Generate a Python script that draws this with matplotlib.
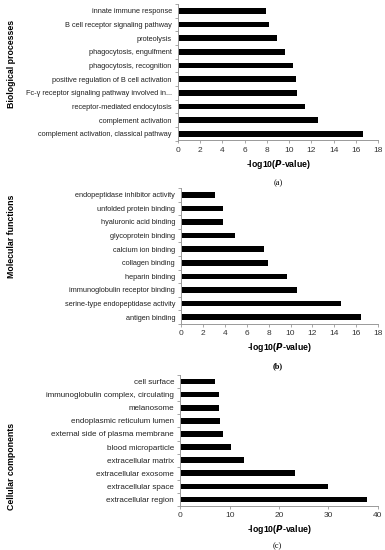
import numpy as np
import matplotlib
matplotlib.use("Agg")
import matplotlib.pyplot as plt

plt.rcParams['font.family'] = ['Liberation Sans', 'DejaVu Sans']

# categories are listed top to bottom as in the figure
bp_terms = ["innate immune response", "B cell receptor signaling pathway", "proteolysis",
            "phagocytosis, engulfment", "phagocytosis, recognition",
            "positive regulation of B cell activation",
            "Fc-\u03b3 receptor signaling pathway involved in...",
            "receptor-mediated endocytosis", "complement activation",
            "complement activation, classical pathway"]
bp_vals = [7.95, 8.22, 8.94, 9.6, 10.38, 10.62, 10.74, 11.46, 12.57, 16.65]

mf_terms = ["endopeptidase inhibitor activity", "unfolded protein binding",
            "hyaluronic acid binding", "glycoprotein binding", "calcium ion binding",
            "collagen binding", "heparin binding", "immunoglobulin receptor binding",
            "serine-type endopeptidase activity", "antigen binding"]
mf_vals = [3.05, 3.78, 3.78, 4.88, 7.57, 7.9, 9.7, 10.62, 14.64, 16.44]

cc_terms = ["cell surface", "immunoglobulin complex, circulating", "melanosome",
            "endoplasmic reticulum lumen", "external side of plasma membrane",
            "blood microparticle", "extracellular matrix", "extracellular exosome",
            "extracellular space", "extracellular region"]
cc_vals = [7.09, 7.77, 7.9, 7.97, 8.65, 10.2, 12.84, 23.3, 29.86, 37.9]

W, H = 385, 550
fig = plt.figure(figsize=(W / 100, H / 100), dpi=100)


def px_axes(left, right, top, bottom):
    return fig.add_axes([left / W, 1 - bottom / H, (right - left) / W, (bottom - top) / H])


def panel(ax, terms, vals, xmax, step, fs=5.3):
    y = np.arange(len(terms))
    ax.barh(y, vals, height=0.42, color='black')
    ax.set_ylim(len(terms) - 0.5, -0.5)
    ax.set_xlim(0, xmax)
    ax.set_xticks(np.arange(0, xmax + 0.1, step))
    ax.set_yticks(y)
    ax.set_yticklabels(terms, fontsize=fs, color='#222222')
    ax.set_yticks(np.arange(-0.5, len(terms)), minor=True)
    ax.tick_params(axis='y', which='major', length=0, pad=4.5)
    ax.tick_params(axis='y', which='minor', length=2.5, color='#999999', width=0.6)
    ax.tick_params(axis='x', length=2.5, color='#999999', width=0.6, labelsize=6,
                   labelcolor='#333333', pad=2)
    for s in ['top', 'right']:
        ax.spines[s].set_visible(False)
    for s in ['left', 'bottom']:
        ax.spines[s].set_color('#999999')
        ax.spines[s].set_linewidth(0.7)
    ax.set_xlabel('-log10($\\bfit{P}$-value)', fontsize=6.3, fontweight='bold', labelpad=3)


ax1 = px_axes(178, 378, 4, 140.5)
panel(ax1, bp_terms, bp_vals, 18, 2)
ax2 = px_axes(181.3, 378, 188, 324)
panel(ax2, mf_terms, mf_vals, 18, 2)
ax3 = px_axes(180.3, 377.7, 375, 506)
panel(ax3, cc_terms, cc_vals, 40, 10, fs=5.8)

fig.text(12 / W, 1 - 64 / H, 'Biological processes', rotation=90, fontsize=6.3,
         fontweight='bold', ha='center', va='center')
fig.text(12 / W, 1 - 236 / H, 'Molecular functions', rotation=90, fontsize=6.3,
         fontweight='bold', ha='center', va='center')
fig.text(12 / W, 1 - 466 / H, 'Cellular components', rotation=90, fontsize=6.3,
         fontweight='bold', ha='center', va='center')

fig.text(278 / W, 1 - 183 / H, '(a)', fontsize=6, ha='center', va='center',
         family='Liberation Serif')
fig.text(278 / W, 1 - 366 / H, '(b)', fontsize=6, ha='center', va='center',
         family='Liberation Serif', fontweight='bold')
fig.text(277 / W, 1 - 546 / H, '(c)', fontsize=6, ha='center', va='center',
         family='Liberation Serif')

fig.savefig('out.png', dpi=100)
